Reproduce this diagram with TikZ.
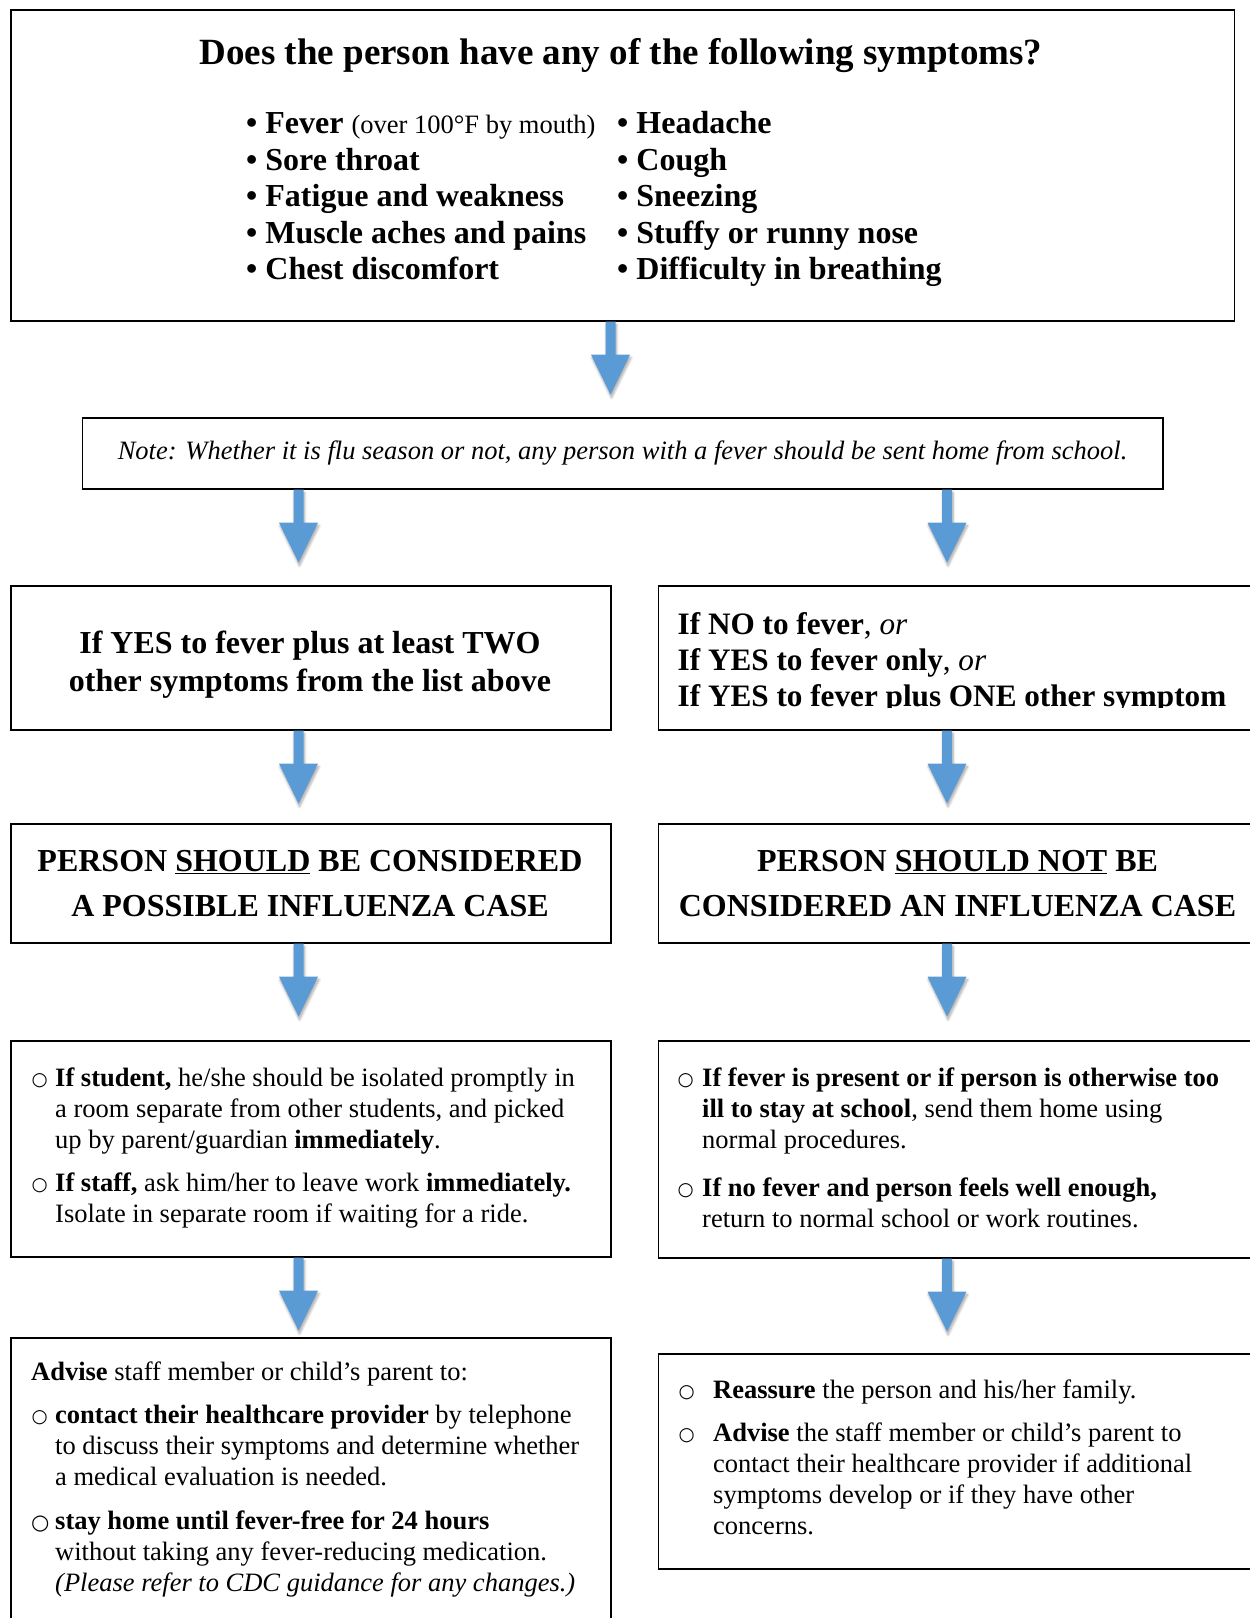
\documentclass[tikz,border=0pt]{standalone}
\usepackage{fontspec}
\setmainfont{Liberation Serif}
\setmonofont{Liberation Mono}
\newfontfamily\symfont{DejaVu Sans}
\usetikzlibrary{calc,shadows.blur}

\definecolor{flowblue}{RGB}{91,155,213}

\newcommand{\titlefont}{\fontsize{37}{42}\selectfont\bfseries}
\newcommand{\listfont}{\fontsize{32}{36.6}\selectfont\bfseries}
\newcommand{\headfont}{\fontsize{32}{38}\selectfont\bfseries}
\newcommand{\bodyfont}{\fontsize{26.5}{31}\selectfont}
\newcommand{\obul}[1][24pt]{\makebox[#1][l]{\hspace{0.5pt}\raisebox{1pt}{\symfont\fontsize{18.5}{18.5}\selectfont ○}}}
\newcommand{\obulbig}[1][24pt]{\makebox[#1][l]{\raisebox{0.5pt}{\symfont\bfseries\fontsize{21}{21}\selectfont ○}}}
\newcommand{\bulind}[1][24pt]{\hspace*{#1}}

% block arrow of fixed length, hanging down from a box
\newcommand{\flowarrow}[1]{%
  \fill[flowblue, blur shadow={shadow xshift=1pt, shadow yshift=-3pt,
      shadow blur radius=2.5pt, shadow blur steps=6, shadow opacity=35}]
    ($(#1)+(-5,0)$) -- ($(#1)+(-5,33)$) -- ($(#1)+(-19.5,33)$)
    -- ($(#1)+(0,73)$) -- ($(#1)+(19.5,33)$) -- ($(#1)+(5,33)$)
    -- ($(#1)+(5,0)$) -- cycle;}

\tikzset{
  flowbox/.style={draw, line width=1.6pt, anchor=north west, inner sep=0pt},
  boxtext/.style={anchor=north west, inner sep=0pt, align=left, font=\bodyfont}
}

\begin{document}
\begin{tikzpicture}[x=1pt, y=-1pt]
    \useasboundingbox (0,0) rectangle (1250,1618);
    \coordinate (mcol) at (610.5,0);
    \coordinate (lcol) at (298.5,0);
    \coordinate (rcol) at (947,0);

    % symptoms
    \node[flowbox, minimum width=1223.2pt, minimum height=311pt] (top) at (10.3,9) {};
    \node[anchor=base, inner sep=0pt, font=\titlefont] (title) at (621,64)
        {Does the person have any of the following symptoms?};
    \node[boxtext, font=\listfont] (symleft) at (246,107.6)
        {\strut• Fever {\mdseries\fontsize{26.5}{36.6}\selectfont (over 100°F by mouth)}\\
         • Sore throat\\
         • Fatigue and weakness\\
         • Muscle aches and pains\\
         • Chest discomfort};
    \node[boxtext, font=\listfont] (symright) at (617,107.6)
        {\strut• Headache\\
         • Cough\\
         • Sneezing\\
         • Stuffy or runny nose\\
         • Difficulty in breathing};

    \node[flowbox, minimum width=1080.5pt, minimum height=71pt, font=\bodyfont\itshape] (note) at (81.5,417)
        {Note: Whether it is flu season or not, any person with a fever should be sent home from school.};

    % first split
    \node[flowbox, minimum width=599.7pt, minimum height=144pt] (twoplus) at (10.3,585) {};
    \node[anchor=north, inner sep=0pt, align=center, font=\headfont] (twoplustxt) at (310,626.2)
        {\strut If YES to fever plus at least TWO\\ other symptoms from the list above};
    \node[flowbox, minimum width=600pt, minimum height=144pt] (nofever) at (657.5,585) {};
    \begin{scope}
        \clip (657.5,585) rectangle (1257.5,707);
        \node[boxtext, font=\fontsize{31.2}{36}\selectfont\bfseries] (nofevertxt) at (677.5,609.3)
            {\strut If NO to fever{\mdseries, \itshape or}\\
             If YES to fever only{\mdseries, \itshape or}\\
             If YES to fever plus ONE other symptom};
    \end{scope}

    % decision
    \node[flowbox, minimum width=599.7pt, minimum height=119pt] (possible) at (10.3,823) {};
    \node[anchor=north, inner sep=0pt, align=center, font=\fontsize{32}{44.2}\selectfont\bfseries] (possibletxt) at (310,840.8)
        {\strut PERSON \underline{SHOULD} BE CONSIDERED\\ A POSSIBLE INFLUENZA CASE};
    \node[flowbox, minimum width=600pt, minimum height=119pt] (notcase) at (657.5,823) {};
    \node[anchor=north, inner sep=0pt, align=center, font=\fontsize{32}{44.2}\selectfont\bfseries] (notcasetxt) at (957.5,840.8)
        {\strut PERSON \underline{SHOULD NOT} BE\\ CONSIDERED AN INFLUENZA CASE};

    % actions
    \node[flowbox, minimum width=599.7pt, minimum height=216pt] (isolate) at (10.3,1040) {};
    \node[boxtext] (isolatetxt) at (31,1064.2)
        {\strut\obul\textbf{If student,} he/she should be isolated promptly in\\
         \bulind a room separate from other students, and picked\\
         \bulind up by parent/guardian \textbf{immediately}.\\[12.3pt]
         \obul\textbf{If staff,} ask him/her to leave work \textbf{immediately.}\\
         \bulind Isolate in separate room if waiting for a ride.};
    \node[flowbox, minimum width=600pt, minimum height=217pt] (sendhome) at (657.5,1040) {};
    \node[boxtext] (sendhometxt) at (677,1064.2)
        {\strut\obul[25pt]\textbf{If fever is present or if person is otherwise too}\\
         \bulind[25pt]\textbf{ill to stay at school}, send them home using\\
         \bulind[25pt]normal procedures.\\[17.5pt]
         \obul[25pt]\textbf{If no fever and person feels well enough,}\\
         \bulind[25pt]return to normal school or work routines.};

    % follow-up
    \node[flowbox, minimum width=599.7pt, minimum height=300pt] (advise) at (10.3,1337) {};
    \node[boxtext] (advisetxt) at (31,1358.3)
        {\strut\textbf{Advise} staff member or child’s parent to:\\[12.2pt]
         \obul\textbf{contact their healthcare provider} by telephone\\
         \bulind to discuss their symptoms and determine whether\\
         \bulind a medical evaluation is needed.\\[13.5pt]
         \obulbig\textbf{stay home until fever-free for 24 hours}\\
         \bulind without taking any fever-reducing medication.\\
         \bulind\textit{(Please refer to CDC guidance for any changes.)}};
    \node[flowbox, minimum width=600pt, minimum height=215pt] (reassure) at (657.5,1353) {};
    \node[boxtext] (reassuretxt) at (678,1376.3)
        {\strut\obul[35pt]\textbf{Reassure} the person and his/her family.\\[12pt]
         \obul[35pt]\textbf{Advise} the staff member or child’s parent to\\
         \bulind[35pt]contact their healthcare provider if additional\\
         \bulind[35pt]symptoms develop or if they have other\\
         \bulind[35pt]concerns.};

    % arrows
    \flowarrow{top.south -| mcol}
    \flowarrow{note.south -| lcol}
    \flowarrow{note.south -| rcol}
    \flowarrow{twoplus.south -| lcol}
    \flowarrow{nofever.south -| rcol}
    \flowarrow{possible.south -| lcol}
    \flowarrow{notcase.south -| rcol}
    \flowarrow{isolate.south -| lcol}
    \flowarrow{sendhome.south -| rcol}
\end{tikzpicture}
\end{document}
